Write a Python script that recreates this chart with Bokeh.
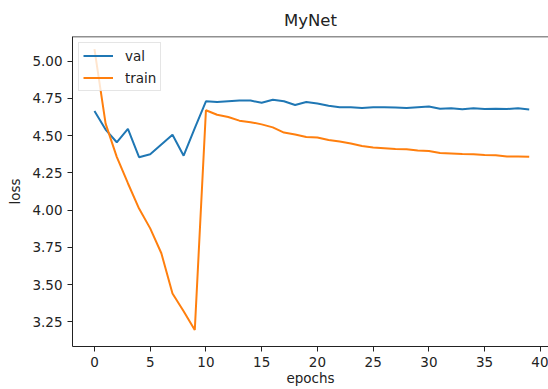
from bokeh.plotting import figure
from bokeh.models import Range1d, NumeralTickFormatter, FixedTicker, Legend, LegendItem, Span
from bokeh.embed import file_html
from bokeh.resources import INLINE

epochs = list(range(40))
val = [4.665, 4.54, 4.455, 4.545, 4.355, 4.375, 4.44, 4.505, 4.365, 4.55,
       4.73, 4.725, 4.73, 4.735, 4.735, 4.72, 4.74, 4.73, 4.705, 4.725,
       4.715, 4.70, 4.69, 4.69, 4.685, 4.69, 4.69, 4.688, 4.685, 4.69,
       4.695, 4.68, 4.683, 4.676, 4.683, 4.678, 4.68, 4.678, 4.683, 4.675]
train = [5.08, 4.58, 4.357, 4.18, 4.01, 3.877, 3.71, 3.44, 3.32, 3.195,
         4.67, 4.64, 4.625, 4.60, 4.59, 4.575, 4.555, 4.52, 4.507, 4.49,
         4.487, 4.47, 4.46, 4.447, 4.43, 4.42, 4.415, 4.41, 4.408, 4.40,
         4.397, 4.383, 4.38, 4.377, 4.375, 4.37, 4.368, 4.36, 4.36, 4.357]
x_ticks = [0, 5, 10, 15, 20, 25, 30, 35, 40]
y_ticks = [3.25, 3.50, 3.75, 4.00, 4.25, 4.50, 4.75, 5.00]

FONT = "DejaVu Sans"
INK = "#222222"
Y_MIN, Y_MAX = 3.084, 5.165

p = figure(width=548, height=389, output_backend="svg", toolbar_location=None,
           x_range=Range1d(-1.97, 40.73), y_range=Range1d(Y_MIN, Y_MAX),
           min_border_left=72, min_border_right=0, min_border_top=36, min_border_bottom=43,
           title="MyNet")
p.outline_line_color = None
p.grid.visible = False
p.background_fill_color = "white"
p.border_fill_color = "white"

p.title.align = "center"
p.title.text_font = FONT
p.title.text_font_size = "16.5px"
p.title.text_font_style = "normal"
p.title.text_color = INK
p.title.standoff = 14

for ax in (p.xaxis[0], p.yaxis[0]):
    ax.major_label_text_font = FONT
    ax.major_label_text_font_size = "13.5px"
    ax.major_label_text_color = INK
    ax.axis_label_text_font = FONT
    ax.axis_label_text_font_size = "13.5px"
    ax.axis_label_text_font_style = "normal"
    ax.axis_label_text_color = INK
    ax.minor_tick_line_color = None
    ax.major_tick_out = 5
    ax.major_tick_in = 0
    ax.axis_line_color = INK
    ax.major_tick_line_color = INK

p.xaxis[0].ticker = FixedTicker(ticks=x_ticks)
p.yaxis[0].ticker = FixedTicker(ticks=y_ticks)
p.yaxis[0].formatter = NumeralTickFormatter(format="0.00")
p.xaxis[0].axis_label = "epochs"
p.yaxis[0].axis_label = "loss"
p.xaxis[0].major_label_standoff = 5
p.xaxis[0].axis_label_standoff = 0
p.yaxis[0].major_label_standoff = 5
p.yaxis[0].axis_label_standoff = 6

# top spine
p.add_layout(Span(location=Y_MAX, dimension="width", line_color=INK, line_width=1.5))

r_val = p.line(epochs, val, line_color="#1f77b4", line_width=2)
r_train = p.line(epochs, train, line_color="#ff7f0e", line_width=2)

legend = Legend(items=[LegendItem(label="val", renderers=[r_val]),
                       LegendItem(label="train", renderers=[r_train])],
                location="top_left")
legend.label_text_font = FONT
legend.label_text_font_size = "13.5px"
legend.label_text_color = INK
legend.border_line_color = "#cccccc"
legend.background_fill_alpha = 0.8
legend.glyph_width = 30
legend.glyph_height = 17
legend.label_height = 17
legend.label_standoff = 12
legend.margin = 6
legend.padding = 4
legend.spacing = 5
p.add_layout(legend)

open("out.html", "w").write(file_html(p, INLINE))
